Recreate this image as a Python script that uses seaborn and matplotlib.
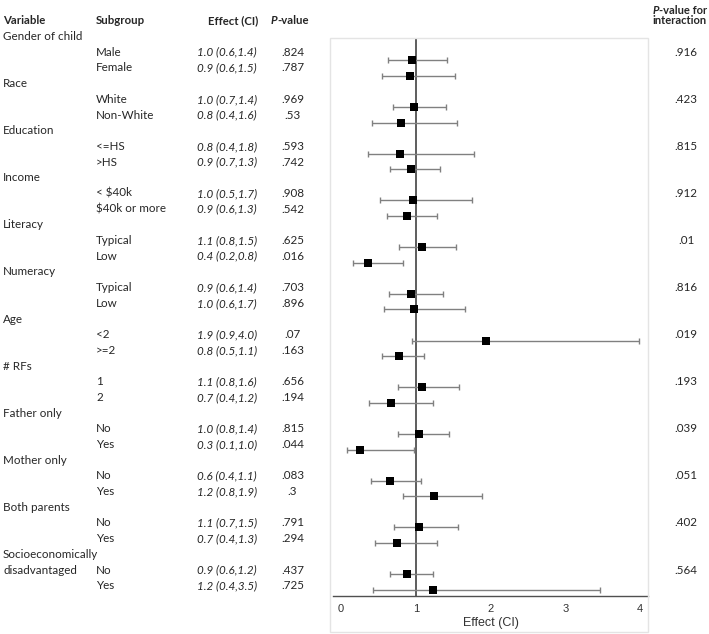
import numpy as np
import pandas as pd
import matplotlib
matplotlib.use("Agg")
import matplotlib.pyplot as plt
from matplotlib.patches import Rectangle
import seaborn as sns

# %% data
variables = ["Gender of child", "Race", "Education", "Income", "Literacy", "Numeracy",
             "Age", "# RFs", "Father only", "Mother only", "Both parents",
             "Socioeconomically\ndisadvantaged"]
subgroups = [["Male", "Female"], ["White", "Non-White"], ["<=HS", ">HS"],
             ["< $40k", "$40k or more"], ["Typical", "Low"], ["Typical", "Low"],
             ["<2", ">=2"], ["1", "2"], ["No", "Yes"], ["No", "Yes"], ["No", "Yes"],
             ["No", "Yes"]]
effect_text = ["1.0 (0.6,1.4)", "0.9 (0.6,1.5)", "1.0 (0.7,1.4)", "0.8 (0.4,1.6)",
               "0.8 (0.4,1.8)", "0.9 (0.7,1.3)", "1.0 (0.5,1.7)", "0.9 (0.6,1.3)",
               "1.1 (0.8,1.5)", "0.4 (0.2,0.8)", "0.9 (0.6,1.4)", "1.0 (0.6,1.7)",
               "1.9 (0.9,4.0)", "0.8 (0.5,1.1)", "1.1 (0.8,1.6)", "0.7 (0.4,1.2)",
               "1.0 (0.8,1.4)", "0.3 (0.1,1.0)", "0.6 (0.4,1.1)", "1.2 (0.8,1.9)",
               "1.1 (0.7,1.5)", "0.7 (0.4,1.3)", "0.9 (0.6,1.2)", "1.2 (0.4,3.5)"]
p_values = [".824", ".787", ".969", ".53", ".593", ".742", ".908", ".542", ".625", ".016",
            ".703", ".896", ".07", ".163", ".656", ".194", ".815", ".044", ".083", ".3",
            ".791", ".294", ".437", ".725"]
p_interaction = [".916", ".423", ".815", ".912", ".01", ".816", ".019", ".193", ".039",
                 ".051", ".402", ".564"]
estimate = [0.95, 0.92, 0.98, 0.80, 0.79, 0.93, 0.96, 0.88, 1.09, 0.36, 0.93, 0.97,
            1.94, 0.78, 1.09, 0.67, 1.04, 0.26, 0.65, 1.25, 1.05, 0.75, 0.88, 1.23]
ci_low = [0.63, 0.55, 0.69, 0.41, 0.36, 0.66, 0.52, 0.61, 0.78, 0.16, 0.64, 0.57,
          0.95, 0.55, 0.76, 0.38, 0.76, 0.08, 0.40, 0.83, 0.71, 0.46, 0.65, 0.43]
ci_high = [1.42, 1.53, 1.41, 1.55, 1.78, 1.33, 1.75, 1.28, 1.54, 0.83, 1.36, 1.66,
           3.99, 1.11, 1.58, 1.23, 1.44, 0.97, 1.07, 1.89, 1.56, 1.29, 1.23, 3.46]

# row index: each variable has a header row followed by its subgroup rows
rows = []
for i, subs in enumerate(subgroups):
    for j, s in enumerate(subs):
        rows.append(i * 3 + 1 + j)
df = pd.DataFrame({'row': rows, 'est': estimate, 'lo': ci_low, 'hi': ci_high})

# %% figure
sns.set_style("white")
plt.rcParams['font.family'] = ['Lato', 'DejaVu Sans']

W, H = 709, 634
fig = plt.figure(figsize=(W / 100, H / 100), dpi=100)
renderer = fig.canvas.get_renderer()

def fx(px):
    return px / W

def fy(py):
    return 1 - py / H

# outer box of the graph region
fig.patches.append(Rectangle((fx(330), fy(632)), fx(648) - fx(330), fy(38) - fy(632),
                             transform=fig.transFigure, fill=False,
                             edgecolor='#e4e4e4', lw=1))

ax = fig.add_axes([fx(333), fy(595.5), fx(648) - fx(333), fy(38) - fy(595.5)])
ax.set_facecolor('none')
ax.errorbar(df['est'], df['row'], xerr=[df['est'] - df['lo'], df['hi'] - df['est']],
            fmt='none', ecolor='#808080', elinewidth=1, capsize=2.2, capthick=1, zorder=2)
sns.scatterplot(data=df, x='est', y='row', marker='s', color='black', s=36,
                edgecolor='black', linewidth=0, ax=ax, zorder=3)
ax.axvline(1, color='#505050', lw=1.3, zorder=1)
ax.set_xlim(-0.107, 4.107)
ax.set_ylim(35.37, -0.43)
ax.set_yticks([])
ax.set_ylabel('')
for side in ['top', 'left', 'right']:
    ax.spines[side].set_visible(False)
ax.spines['bottom'].set_color('#505050')
ax.spines['bottom'].set_linewidth(1)
ax.set_xticks([0, 1, 2, 3, 4])
ax.tick_params(axis='x', direction='out', length=3, width=1, color='#505050',
               labelsize=8, labelcolor='#333333', pad=3)
for lab in ax.get_xticklabels():
    lab.set_family('Liberation Sans')
ax.set_xlabel('Effect (CI)', fontsize=9, family='Liberation Sans', color='#333333',
              labelpad=2.5)

# %% table text
fs = 8.4
hfs = 8.2
row_y0, row_dy = 36.6, 15.69

def ty(r):
    return fy(row_y0 + r * row_dy)

def p_header(x_px, y_px, rest, right=False, size=hfs):
    # italic bold "P" followed by the bold rest of the header
    t1 = fig.text(0, fy(y_px), 'P', fontsize=size, weight='bold', style='italic',
                  va='center')
    t2 = fig.text(0, fy(y_px), rest, fontsize=size, weight='bold', va='center')
    w1 = t1.get_window_extent(renderer).width
    w2 = t2.get_window_extent(renderer).width
    x0 = x_px - w1 - w2 if right else x_px
    t1.set_x(fx(x0))
    t2.set_x(fx(x0 + w1))

hdr = 20.5
fig.text(fx(3), fy(hdr), 'Variable', fontsize=hfs, weight='bold', va='center')
fig.text(fx(96), fy(hdr), 'Subgroup', fontsize=hfs, weight='bold', va='center')
fig.text(fx(258), fy(hdr), 'Effect (CI)', fontsize=hfs, weight='bold', va='center',
         ha='right')
p_header(271, hdr, '-value')
p_header(707, 10, '-value for', right=True, size=8.0)
fig.text(fx(707), fy(21), 'interaction', fontsize=8.0, weight='bold', va='center',
         ha='right')

k = 0
for i, var in enumerate(variables):
    r0 = i * 3
    for n, part in enumerate(var.split('\n')):
        fig.text(fx(3), ty(r0 + n), part, fontsize=fs, va='center')
    fig.text(fx(686), ty(r0 + 1), p_interaction[i], fontsize=fs, va='center', ha='center')
    for j, sub in enumerate(subgroups[i]):
        r = r0 + 1 + j
        fig.text(fx(96), ty(r), sub, fontsize=fs, va='center', parse_math=False)
        fig.text(fx(257), ty(r), effect_text[k], fontsize=fs, va='center', ha='right',
                 style='italic')
        fig.text(fx(292.5), ty(r), p_values[k], fontsize=fs, va='center', ha='center')
        k += 1

fig.savefig('out.png', dpi=100)
